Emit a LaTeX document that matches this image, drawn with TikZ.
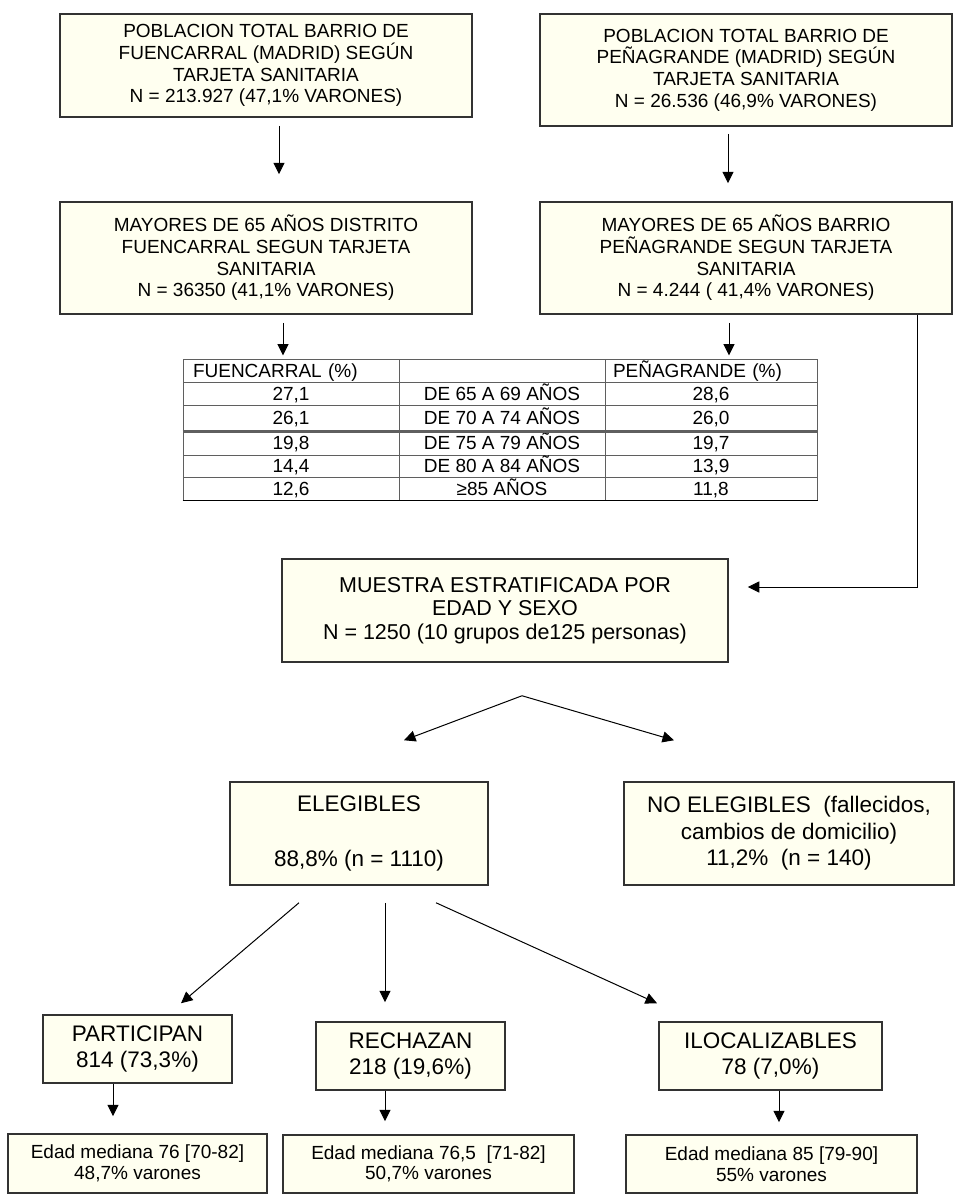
\documentclass[tikz,border=0pt]{standalone}
\usepackage{fontspec}
\setmainfont{Liberation Sans}
\usetikzlibrary{arrows.meta, positioning}
\definecolor{boxfill}{RGB}{255,255,240}
\definecolor{boxline}{RGB}{50,50,50}
\definecolor{gridline}{RGB}{95,95,95}

\begin{document}
\begin{tikzpicture}[x=1pt, y=-1pt]
		\tikzstyle{box} = [draw=boxline, fill=boxfill, line width=1.5pt, align=center, inner sep=0pt]
		\tikzstyle{big} = [box, font=\fontsize{19}{21.7}\selectfont]
		\tikzstyle{mid} = [box, font=\fontsize{22.5}{26.5}\selectfont]
		\tikzstyle{small} = [box, font=\fontsize{19}{20.5}\selectfont]
		\tikzstyle{cell} = [draw=gridline, line width=1pt, inner sep=0pt, text height=13.6pt, text depth=0pt, font=\fontsize{19}{21}\selectfont]
		\tikzstyle{arrow} = [->, >={Triangle[width=11pt,length=11.5pt]}, line width=1pt]

		\useasboundingbox (0,0) rectangle (956,1197);

		\node[big, minimum width=412pt, minimum height=103pt] at (266,65.5) (pf) {POBLACION TOTAL BARRIO DE\\FUENCARRAL (MADRID) SEGÚN\\TARJETA SANITARIA\\N = 213.927 (47,1\% VARONES)};
		\node[big, minimum width=412pt, minimum height=112pt] at (746,70) (pp) {POBLACION TOTAL BARRIO DE\\PEÑAGRANDE (MADRID) SEGÚN\\TARJETA SANITARIA\\N = 26.536 (46,9\% VARONES)};
		\node[big, minimum width=412pt, minimum height=112pt] at (266,258) (mf) {MAYORES DE 65 AÑOS DISTRITO\\FUENCARRAL SEGUN TARJETA\\SANITARIA\\N = 36350 (41,1\% VARONES)};
		\node[big, minimum width=412pt, minimum height=112pt] at (746,258) (mp) {MAYORES DE 65 AÑOS BARRIO\\PEÑAGRANDE SEGUN TARJETA\\SANITARIA\\N = 4.244 ( 41,4\% VARONES)};

		\node[cell, minimum width=216pt, minimum height=23pt, text width=196pt, align=left] at (291,370.5) (fh) {FUENCARRAL (\%)};
		\node[cell, minimum width=206pt, minimum height=23pt] at (502,370.5) (mh) {};
		\node[cell, minimum width=212pt, minimum height=23pt, text width=196pt, align=left] at (711,370.5) (ph) {PEÑAGRANDE (\%)};
		\foreach \yc/\h/\a/\b/\c [count=\i] in {
				393.5/23/{27,1}/{DE 65 A 69 AÑOS}/{28,6},
				418/26/{26,1}/{DE 70 A 74 AÑOS}/{26,0},
				443/24/{19,8}/{DE 75 A 79 AÑOS}/{19,7},
				466/22/{14,4}/{DE 80 A 84 AÑOS}/{13,9},
				488.5/23/{12,6}/{≥85 AÑOS}/{11,8}} {
			\node[cell, minimum width=216pt, minimum height=\h pt] at (291,\yc) (f\i) {\a};
			\node[cell, minimum width=206pt, minimum height=\h pt] at (502,\yc) (m\i) {\b};
			\node[cell, minimum width=212pt, minimum height=\h pt] at (711,\yc) (p\i) {\c};
		}
		\draw[gridline, line width=2.2pt] (f2.south west) -- (p2.south east);
		\draw[line width=1.3pt] (f5.south west) -- (p5.south east);

		\node[box, font=\fontsize{21.5}{23.5}\selectfont, minimum width=446pt, minimum height=103pt] at (505,610.5) (mu) {MUESTRA ESTRATIFICADA POR\\EDAD Y SEXO\\N = 1250 (10 grupos de125 personas)};

		\node[mid, minimum width=258pt, minimum height=103pt] at (359,833.5) (el) {ELEGIBLES\\[29pt]88,8\% (n = 1110)};
		\node[mid, minimum width=330pt, minimum height=103pt] at (789,833.5) (ne) {NO ELEGIBLES\ \ (fallecidos,\\cambios de domicilio)\\11,2\%\ \ (n = 140)};

		\node[mid, minimum width=189pt, minimum height=68pt] at (137.5,1049) (pa) {PARTICIPAN\\814 (73,3\%)};
		\node[mid, minimum width=189pt, minimum height=68pt] at (410.5,1056) (re) {RECHAZAN\\218 (19,6\%)};
		\node[mid, minimum width=223pt, minimum height=68pt] at (770.5,1056) (il) {ILOCALIZABLES\\78 (7,0\%)};

		\node[small, minimum width=259pt, minimum height=59pt] at (137.5,1163.5) (epa) {Edad mediana 76 [70-82]\\48,7\% varones};
		\node[small, minimum width=291pt, minimum height=58pt] at (428.5,1164) (ere) {Edad mediana 76,5\ \ [71-82]\\50,7\% varones};
		\node[small, minimum width=291pt, minimum height=58pt] at (771.5,1164) (eil) {Edad mediana 85 [79-90]\\55\% varones};

		\coordinate (apex) at ([xshift=17pt,yshift=-33pt]mu.south);

		\draw[arrow] ([xshift=13pt,yshift=-8pt]pf.south) -- ([xshift=13pt,yshift=27pt]mf.north);
		\draw[arrow] ([xshift=-18pt,yshift=-7pt]pp.south) -- ([xshift=-18pt,yshift=18pt]mp.north);
		\draw[arrow] ([xshift=17pt,yshift=-8pt]mf.south) -- ([xshift=-8pt,yshift=3pt]fh.north);
		\draw[arrow] ([xshift=-17pt,yshift=-8pt]mp.south) -- ([xshift=18pt,yshift=3pt]ph.north);
		\draw[arrow] ([xshift=-35pt]mp.south east) |- ([xshift=19pt,yshift=23.5pt]mu.east);
		\draw[arrow] (apex) -- ([xshift=45pt,yshift=41pt]el.north);
		\draw[arrow] (apex) -- ([xshift=-115pt,yshift=41pt]ne.north);
		\draw[arrow] ([xshift=-60pt,yshift=-17pt]el.south) -- ([xshift=43.5pt,yshift=11pt]pa.north);
		\draw[arrow] ([xshift=26pt,yshift=-17pt]el.south) -- ([xshift=-25.5pt,yshift=19pt]re.north);
		\draw[arrow] ([xshift=77pt,yshift=-17pt]el.south) -- ([xshift=-113.5pt,yshift=18pt]il.north);
		\draw[arrow] ([xshift=-24.5pt]pa.south) -- ([xshift=-24.5pt,yshift=17pt]epa.north);
		\draw[arrow] ([xshift=-25.5pt]re.south) -- ([xshift=-43.5pt,yshift=13pt]ere.north);
		\draw[arrow] ([xshift=8.5pt]il.south) -- ([xshift=7.5pt,yshift=12pt]eil.north);
	\end{tikzpicture}
\end{document}
